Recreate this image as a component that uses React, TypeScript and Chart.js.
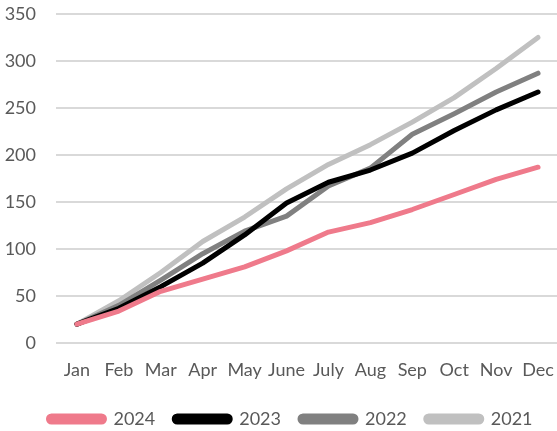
import React, { useEffect, useRef } from "react";
import { Chart, registerables } from "chart.js";

Chart.register(...registerables);

const months = ["Jan", "Feb", "Mar", "Apr", "May", "June", "July", "Aug", "Sep", "Oct", "Nov", "Dec"];
const s2024 = [20, 34, 55, 68, 81, 98, 118, 128, 142, 158, 174, 187];
const s2023 = [20, 37, 60, 85, 115, 149, 171, 184, 202, 226, 248, 267];
const s2022 = [20, 40, 67, 95, 119, 135, 167, 186, 222, 244, 267, 287];
const s2021 = [20, 45, 75, 108, 134, 164, 190, 211, 235, 261, 292, 325];
const yTicksMax = 350;
const yStep = 50;

const FONT = "Lato, 'Open Sans', sans-serif";
const TEXT = "#595959";

const legendShift = {
  id: "legendShift",
  afterLayout(chart: any) {
    const lg = chart.legend;
    if (lg) {
      lg.left += 11;
      lg.right += 11;
    }
  },
};

export default function App() {
  const ref = useRef<HTMLCanvasElement | null>(null);
  useEffect(() => {
    if (!ref.current) return;
    const mk = (label: string, data: number[], color: string) => ({
      label,
      data,
      borderColor: color,
      backgroundColor: color,
      borderWidth: 5,
      pointRadius: 0,
      tension: 0,
      borderCapStyle: "round" as const,
      borderJoinStyle: "round" as const,
    });
    const chart = new Chart(ref.current, {
      type: "line",
      data: {
        labels: months,
        datasets: [
          mk("2024", s2024, "#EF7A8B"),
          mk("2023", s2023, "#000000"),
          mk("2022", s2022, "#808080"),
          mk("2021", s2021, "#C0C0C0"),
        ],
      },
      plugins: [legendShift],
      options: {
        animation: false,
        responsive: false,
        maintainAspectRatio: false,
        layout: { padding: { top: 14, right: 0, left: 0, bottom: 0 } },
        scales: {
          x: {
            offset: true,
            grid: { display: false, drawTicks: false },
            border: { display: false },
            ticks: { color: TEXT, font: { family: FONT, size: 18 }, padding: 16, maxRotation: 0, autoSkip: false },
            afterFit: (scale: any) => {
              scale.height = 48;
              scale.paddingLeft = 0;
              scale.paddingRight = 0;
            },
          },
          y: {
            min: 0,
            max: yTicksMax,
            ticks: { stepSize: yStep, color: TEXT, font: { family: FONT, size: 18 }, padding: 20 },
            grid: { color: "#D9D9D9", lineWidth: 2, drawTicks: false },
            border: { display: false },
            afterFit: (scale: any) => {
              scale.width = 56;
              scale.paddingTop = 0;
              scale.paddingBottom = 0;
            },
          },
        },
        plugins: {
          legend: {
            position: "bottom",
            labels: {
              color: TEXT,
              font: { family: FONT, size: 18 },
              boxWidth: 56,
              boxHeight: 6,
              padding: 19,
              useBorderRadius: true,
              borderRadius: 3,
            },
          },
          tooltip: { enabled: false },
        },
      },
    });
    return () => chart.destroy();
  }, []);
  return (
    <div style={{ position: "fixed", left: 0, top: 0, width: 557, height: 431, overflow: "hidden", background: "#fff" }}>
      <canvas ref={ref} width={559} height={438} style={{ display: "block" }} />
    </div>
  );
}
